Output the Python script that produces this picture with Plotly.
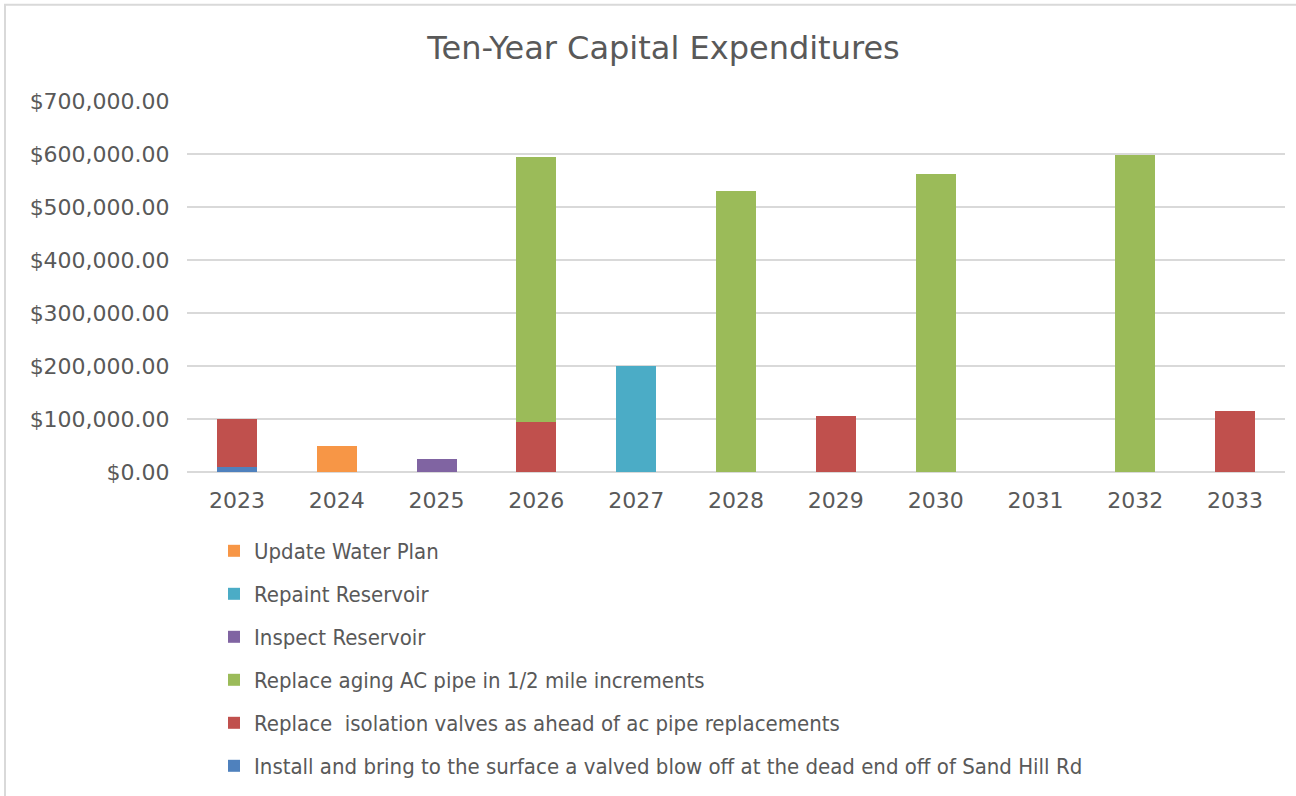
import plotly.graph_objects as go

years = ["2023", "2024", "2025", "2026", "2027", "2028", "2029", "2030", "2031", "2032", "2033"]

install_blowoff = [10000, 0, 0, 0, 0, 0, 0, 0, 0, 0, 0]
replace_valves = [90000, 0, 0, 95000, 0, 0, 105000, 0, 0, 0, 116000]
replace_ac_pipe = [0, 0, 0, 500000, 0, 530000, 0, 563000, 0, 598000, 0]
inspect_reservoir = [0, 0, 25000, 0, 0, 0, 0, 0, 0, 0, 0]
repaint_reservoir = [0, 0, 0, 0, 200000, 0, 0, 0, 0, 0, 0]
update_water_plan = [0, 50000, 0, 0, 0, 0, 0, 0, 0, 0, 0]

y_ticks = [0, 100000, 200000, 300000, 400000, 500000, 600000, 700000]
y_tick_labels = [f"${v:,.2f}" for v in y_ticks]

# stacking order bottom -> top
series = [
    ("Install and bring to the surface a valved blow off at the dead end off of Sand Hill Rd", install_blowoff, "#4F81BD"),
    ("Replace  isolation valves as ahead of ac pipe replacements", replace_valves, "#C0504D"),
    ("Replace aging AC pipe in 1/2 mile increments", replace_ac_pipe, "#9BBB59"),
    ("Inspect Reservoir", inspect_reservoir, "#8064A2"),
    ("Repaint Reservoir", repaint_reservoir, "#4BACC6"),
    ("Update Water Plan", update_water_plan, "#F79646"),
]

FONT = "DejaVu Sans"
FONT_C = "DejaVu Sans Condensed"
GREY = "#595959"

fig = go.Figure()
n = len(series)
for i, (name, vals, color) in enumerate(series):
    fig.add_trace(go.Bar(
        x=years, y=vals, name=name, legendgroup=f"g{i}", legendrank=n - i,
        marker=dict(color=color, line=dict(width=0)),
        hovertemplate="%{x}: $%{y:,.2f}<extra>" + name + "</extra>",
    ))

fig.update_layout(
    barmode="stack",
    bargap=0.6,
    width=1296, height=796,
    margin=dict(l=187, r=11, t=101, b=324),
    paper_bgcolor="white", plot_bgcolor="white",
    font=dict(family=FONT, color=GREY, size=22),
    title=dict(text="Ten-Year Capital Expenditures", x=0.512, xanchor="center",
               y=1 - 48 / 796, yanchor="middle",
               font=dict(family=FONT, size=32, color=GREY)),
    legend=dict(orientation="v", traceorder="grouped", tracegroupgap=11.4,
                x=0.0246, xanchor="left", yref="container", y=1 - 530 / 796, yanchor="top",
                font=dict(family=FONT_C, size=22, color=GREY),
                itemwidth=30, bgcolor="rgba(0,0,0,0)"),
    showlegend=True,
)
fig.update_yaxes(range=[0, 700800], tickvals=y_ticks, ticktext=y_tick_labels,
                 showgrid=True, gridcolor="#D9D9D9", gridwidth=1.5,
                 zeroline=True, zerolinecolor="#D9D9D9", zerolinewidth=1.5,
                 ticks="outside", ticklen=12, tickcolor="rgba(0,0,0,0)",
                 tickfont=dict(family=FONT, size=22, color=GREY), showline=False)
fig.update_xaxes(type="category", showgrid=False, showline=False,
                 ticks="outside", ticklen=9, tickcolor="rgba(0,0,0,0)",
                 tickfont=dict(family=FONT, size=22, color=GREY))

# outer chart border (top and left visible in the reference)
fig.add_shape(type="rect", xref="paper", yref="paper",
              x0=(5 - 187) / 1098, x1=1.2, y0=-1.2, y1=1 + (101 - 5) / 370,
              line=dict(color="#D9D9D9", width=2), fillcolor="rgba(0,0,0,0)", layer="below")

fig.write_html("out.html", config={"displayModeBar": False},
               post_script="document.body.style.margin='0';")
